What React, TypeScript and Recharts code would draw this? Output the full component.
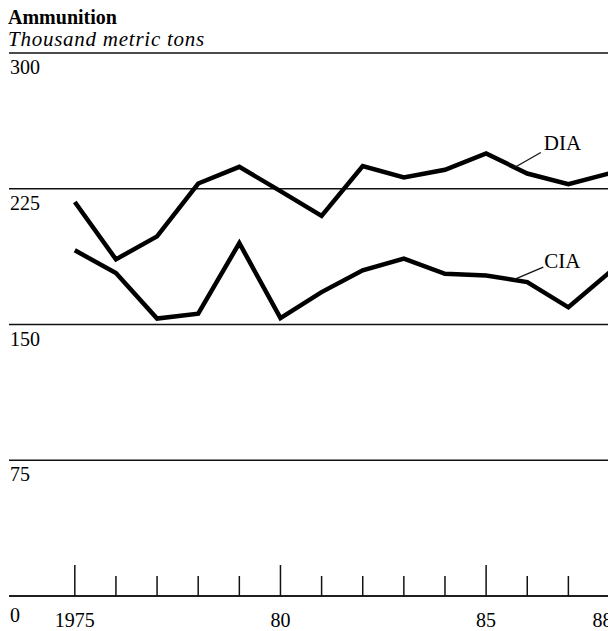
import React from "react";
import {
  LineChart,
  Line,
  XAxis,
  YAxis,
  CartesianGrid,
  ReferenceLine,
} from "recharts";

const years = [1975, 1976, 1977, 1978, 1979, 1980, 1981, 1982, 1983, 1984, 1985, 1986, 1987, 1988];
const diaValues = [217.7, 186, 198.7, 227.9, 237.1, 223.7, 210, 237.5, 231.2, 235.5, 244.5, 233.4, 227.5, 233.5];
const ciaValues = [191, 178.4, 153.3, 156, 195, 153.5, 167.9, 179.9, 186.4, 178, 177.1, 173.4, 159.5, 178.8];

const yTicks = [0, 75, 150, 225, 300];
const xLabels: Record<number, string> = { 1975: "1975", 1980: "80", 1985: "85", 1988: "88" };
const majorYears = [1975, 1980, 1985];

const data = years.map((year, i) => ({ year, dia: diaValues[i], cia: ciaValues[i] }));

const FONT = "'Liberation Serif', 'Times New Roman', serif";

function XTick({ x, y, payload }: any) {
  const v = payload.value as number;
  const len = majorYears.includes(v) ? 31 : 20;
  const label = xLabels[v];
  const dx = v === 1988 ? -7 : 0;
  return (
    <g>
      <line x1={x} x2={x} y1={y} y2={y - len} stroke="#111" strokeWidth={1.5} />
      {label && (
        <text x={x + dx} y={y + 30.5} textAnchor="middle" fontSize={20} fontFamily={FONT} fill="#000">
          {label}
        </text>
      )}
    </g>
  );
}

// labels sit just under each gridline, left-aligned at the plot edge
function YTick({ y, payload }: any) {
  const v = payload.value as number;
  return (
    <text x={10} y={y + (v === 0 ? 26 : 21)} textAnchor="start" fontSize={20} fontFamily={FONT} fill="#000">
      {v}
    </text>
  );
}

function leaderLabel(text: string, dx: number, dy: number) {
  return (props: any) => {
    const vb = props.viewBox;
    return (
      <text x={vb.x + vb.width + dx} y={vb.y + dy} fontSize={21} fontFamily={FONT} fill="#000">
        {text}
      </text>
    );
  };
}

export default function App() {
  return (
    <div style={{ position: "relative", width: 608, height: 631, overflow: "hidden", background: "#fff" }}>
      <style>{"body{margin:0;overflow:hidden}"}</style>
      <div style={{ position: "absolute", left: 8, top: 6.5, fontFamily: FONT, fontSize: 20, fontWeight: "bold", lineHeight: 1 }}>
        Ammunition
      </div>
      <div
        style={{
          position: "absolute",
          left: 8,
          top: 29,
          fontFamily: FONT,
          fontSize: 21,
          fontStyle: "italic",
          letterSpacing: 0.75,
          lineHeight: 1,
        }}
      >
        Thousand metric tons
      </div>
      <div style={{ position: "absolute", left: 0, top: 0 }}>
        <LineChart width={700} height={631} data={data} margin={{ top: 53, right: 0, bottom: 0, left: 8 }}>
          <CartesianGrid horizontal vertical={false} stroke="#111" strokeWidth={1.5} />
          <XAxis
            dataKey="year"
            type="number"
            domain={[1973.4, 1990.2]}
            ticks={years}
            interval={0}
            allowDataOverflow
            height={35}
            tickSize={0}
            tickMargin={0}
            tickLine={false}
            axisLine={{ stroke: "#111", strokeWidth: 1.5 }}
            tick={<XTick />}
          />
          <YAxis
            type="number"
            domain={[0, 300]}
            ticks={yTicks}
            interval={0}
            width={1}
            tickSize={0}
            tickMargin={0}
            axisLine={false}
            tickLine={false}
            tick={<YTick />}
          />
          <Line dataKey="dia" type="linear" stroke="#000" strokeWidth={4.5} dot={false} isAnimationActive={false} />
          <Line dataKey="cia" type="linear" stroke="#000" strokeWidth={4.5} dot={false} isAnimationActive={false} />
          <ReferenceLine
            segment={[{ x: 1985.68, y: 236.6 }, { x: 1986.33, y: 245 }]}
            stroke="#111"
            strokeWidth={1.3}
            label={leaderLabel("DIA", 3, -3)}
          />
          <ReferenceLine
            segment={[{ x: 1985.66, y: 174.7 }, { x: 1986.39, y: 181.7 }]}
            stroke="#111"
            strokeWidth={1.3}
            label={leaderLabel("CIA", 1, 1)}
          />
        </LineChart>
      </div>
    </div>
  );
}
